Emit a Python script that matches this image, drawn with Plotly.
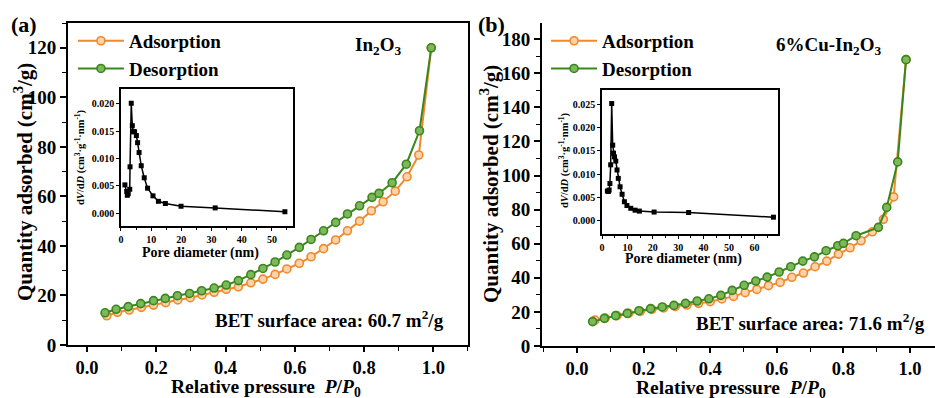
import plotly.graph_objects as go

# ---------------- data ----------------
# Panel (a) In2O3
a_ads_p = [0.057, 0.088, 0.122, 0.157, 0.192, 0.227, 0.262, 0.298, 0.332, 0.367, 0.402, 0.437,
           0.473, 0.508, 0.543, 0.577, 0.613, 0.647, 0.683, 0.718, 0.752, 0.787, 0.821, 0.855,
           0.890, 0.924, 0.958, 0.994]
a_ads_q = [11.8, 13.2, 14.1, 15.2, 16.1, 17.1, 18.2, 19.1, 20.2, 21.3, 22.5, 23.5,
           25.1, 26.6, 28.5, 30.7, 33.0, 35.6, 38.9, 42.4, 46.1, 50.0, 54.2, 57.8,
           62.1, 67.9, 76.7, 120.0]
a_des_p = [0.052, 0.084, 0.119, 0.155, 0.192, 0.226, 0.261, 0.296, 0.331, 0.367, 0.402, 0.437,
           0.473, 0.508, 0.543, 0.577, 0.613, 0.647, 0.683, 0.718, 0.752, 0.787, 0.823, 0.843,
           0.881, 0.922, 0.960, 0.994]
a_des_q = [13.0, 14.4, 15.5, 16.7, 17.9, 18.8, 19.9, 20.8, 21.9, 23.0, 24.2, 26.0,
           28.4, 30.9, 33.5, 36.3, 39.4, 42.6, 46.1, 49.5, 52.9, 56.2, 59.6, 61.2,
           65.5, 73.0, 86.5, 120.0]
a_pore_d = [1.3, 1.9, 2.1, 2.4, 2.9, 3.0, 3.4, 3.75, 4.1, 4.5, 5.1, 5.5, 6.0, 6.7, 7.7, 8.8,
            10.6, 12.4, 14.7, 19.9, 31.2, 54.3]
a_pore_v = [0.0052, 0.0040, 0.0033, 0.0036, 0.0044, 0.0085, 0.0201, 0.0160, 0.0149, 0.0149,
            0.0142, 0.0129, 0.0111, 0.0087, 0.0065, 0.0046, 0.0032, 0.0022, 0.0018, 0.0013,
            0.0010, 0.0003]

# Panel (b) 6%Cu-In2O3
b_ads_p = [0.054, 0.085, 0.120, 0.155, 0.190, 0.225, 0.260, 0.295, 0.330, 0.365, 0.400, 0.435,
           0.470, 0.505, 0.540, 0.575, 0.610, 0.645, 0.680, 0.715, 0.750, 0.785, 0.820, 0.853,
           0.887, 0.920, 0.951, 0.988]
b_ads_q = [15.2, 16.4, 17.8, 19.1, 20.3, 21.5, 22.3, 23.2, 24.0, 25.0, 26.0, 27.6,
           29.1, 31.3, 33.2, 35.4, 37.3, 40.3, 42.8, 46.5, 49.8, 53.9, 57.6, 61.7,
           67.0, 74.3, 87.5, 168.0]
b_des_p = [0.047, 0.082, 0.116, 0.151, 0.186, 0.221, 0.256, 0.291, 0.326, 0.361, 0.396, 0.432,
           0.466, 0.502, 0.537, 0.571, 0.607, 0.642, 0.678, 0.713, 0.748, 0.783, 0.800, 0.838,
           0.905, 0.930, 0.963, 0.988]
b_des_q = [14.3, 16.2, 17.8, 19.1, 20.7, 21.9, 22.9, 23.8, 25.0, 26.4, 27.7, 29.7,
           32.6, 35.6, 38.1, 40.4, 43.4, 46.5, 49.8, 52.3, 55.9, 58.8, 60.2, 64.7,
           69.6, 81.3, 108.0, 168.0]
b_pore_d = [2.1, 2.5, 2.8, 3.1, 3.4, 3.8, 4.2, 4.5, 4.9, 5.4, 5.9, 6.4, 7.1, 7.9, 8.8, 9.8,
            11.3, 13.0, 14.7, 20.5, 34.1, 67.5]
b_pore_v = [0.0064, 0.0063, 0.0066, 0.0080, 0.0120, 0.0251, 0.0162, 0.0145, 0.0137, 0.0128,
            0.0109, 0.0091, 0.0073, 0.0057, 0.0041, 0.0033, 0.0027, 0.0023, 0.0021, 0.0019,
            0.0018, 0.0008]

FONT = "Liberation Serif"
ORANGE = "#F0892B"
GREEN = "#3A861C"

fig = go.Figure()

def iso(x, y, name, color, fill, xa, ya, legend):
    fig.add_trace(go.Scatter(
        x=x, y=y, mode="lines+markers", name=name,
        line=dict(color=color, width=2),
        marker=dict(symbol="circle", size=8, color=fill, line=dict(color=color, width=1.6)),
        xaxis=xa, yaxis=ya, legend=legend, showlegend=True))

iso(a_ads_p, a_ads_q, "Adsorption", ORANGE, "#FAD3AA", "x", "y", "legend")
iso(a_des_p, a_des_q, "Desorption", GREEN, "#7DB85C", "x", "y", "legend")
iso(b_ads_p, b_ads_q, "Adsorption", ORANGE, "#FAD3AA", "x2", "y2", "legend2")
iso(b_des_p, b_des_q, "Desorption", GREEN, "#7DB85C", "x2", "y2", "legend2")

for d, v, xa, ya in [(a_pore_d, a_pore_v, "x3", "y3"), (b_pore_d, b_pore_v, "x4", "y4")]:
    fig.add_trace(go.Scatter(
        x=d, y=v, mode="lines+markers", showlegend=False,
        line=dict(color="black", width=1.5),
        marker=dict(symbol="square", size=5, color="black"),
        xaxis=xa, yaxis=ya))

tickfont = dict(family=FONT, size=19, color="black", weight="bold")
xtickfont = dict(family=FONT, size=18.5, color="black", weight="bold")
small_tf = dict(family=FONT, size=10, color="black", weight="bold")

def main_x(domain, rng, anchor, mirror):
    return dict(domain=domain, range=rng, anchor=anchor, showline=True, linecolor="black",
                linewidth=2, mirror=mirror, ticks="outside", ticklen=5, tickwidth=1.5,
                tickcolor="black", dtick=0.2, tick0=0, tickformat=".1f", automargin=False,
                minor=dict(ticks="outside", ticklen=4, dtick=0.1, tickcolor="black", tickwidth=1.2),
                showgrid=False, zeroline=False, tickfont=xtickfont)

def main_y(domain, rng, anchor, mirror):
    return dict(domain=domain, range=rng, anchor=anchor, showline=True, linecolor="black",
                linewidth=2, mirror=mirror, ticks="outside", ticklen=6, tickwidth=1.5,
                tickcolor="black", dtick=20, tick0=0, automargin=False,
                minor=dict(ticks="outside", ticklen=4, dtick=10, tickcolor="black", tickwidth=1.2),
                showgrid=False, zeroline=False, tickfont=tickfont)

def inset_x(domain, rng, anchor):
    return dict(domain=domain, range=rng, anchor=anchor, showline=True, linecolor="black",
                linewidth=1.5, mirror=True, ticks="outside", ticklen=3, tickwidth=1,
                tickcolor="black", dtick=10, tick0=0, automargin=False,
                minor=dict(ticks="outside", ticklen=2, dtick=5, tickcolor="black"),
                showgrid=False, zeroline=False, tickfont=small_tf)

def inset_y(domain, rng, anchor):
    return dict(domain=domain, range=rng, anchor=anchor, showline=True, linecolor="black",
                linewidth=1.5, mirror=True, ticks="outside", ticklen=3, tickwidth=1,
                tickcolor="black", dtick=0.005, tick0=0, tickformat=".3f", automargin=False,
                showgrid=False, zeroline=False, tickfont=small_tf)

legfont = dict(family=FONT, size=19, color="black", weight="bold")
fig.update_layout(
    width=935, height=398,
    margin=dict(l=0, r=0, t=0, b=0, autoexpand=False),
    paper_bgcolor="white", plot_bgcolor="rgba(0,0,0,0)",
    xaxis=main_x([0.0727, 0.5005], [-0.055, 1.1], "y", True),
    yaxis=main_y([0.1332, 0.9422], [0, 130], "x", True),
    xaxis2=main_x([0.5797, 1.0], [-0.105, 1.075], "y2", False),
    yaxis2=main_y([0.1307, 0.9422], [0, 189.5], "x2", False),
    xaxis3=inset_x([0.1294, 0.3134], [0, 57], "y3"),
    yaxis3=inset_y([0.4322, 0.7764], [-0.0023, 0.0227], "x3"),
    xaxis4=inset_x([0.6439, 0.8321], [0, 69.3], "y4"),
    yaxis4=inset_y([0.412, 0.7739], [-0.0028, 0.028], "x4"),
    legend=dict(x=0.078, y=0.945, xanchor="left", yanchor="top", bgcolor="rgba(0,0,0,0)",
                font=legfont, itemwidth=46, tracegroupgap=0),
    legend2=dict(x=0.584, y=0.945, xanchor="left", yanchor="top", bgcolor="rgba(0,0,0,0)",
                 font=legfont, itemwidth=46, tracegroupgap=0),
)

# white background for insets
for xd, yd in [([0.1294, 0.3134], [0.4322, 0.7764]), ([0.6439, 0.8321], [0.412, 0.7739])]:
    fig.add_shape(type="rect", xref="paper", yref="paper", x0=xd[0], x1=xd[1], y0=yd[0], y1=yd[1],
                  fillcolor="white", line=dict(width=0), layer="below")

def ann(text, x, y, size, xanchor="center", angle=0):
    fig.add_annotation(text=text, x=x / 935, y=1 - y / 398, xref="paper", yref="paper",
                       showarrow=False, xanchor=xanchor, yanchor="middle", textangle=angle,
                       font=dict(family=FONT, size=size, color="black", weight="bold"))

ann("(a)", 9, 25, 22, "left")
ann("(b)", 476, 25, 22, "left")
ann("In<sub>2</sub>O<sub>3</sub>", 378, 46, 19)
ann("6%Cu-In<sub>2</sub>O<sub>3</sub>", 829, 46, 19)
ann("BET surface area: 60.7 m<sup>2</sup>/g", 329, 319, 19)
ann("BET surface area: 71.6 m<sup>2</sup>/g", 810, 322, 19)

# main axis titles
xtitle = "Relative pressure  <i>P</i>/<i>P</i><sub>0</sub>"
ytitle = "Quantity adsorbed (cm<sup>3</sup>/g)"
ann(xtitle, 266, 388, 19.5)
ann(xtitle, 731, 389, 19.5)
ann(ytitle, 23, 182, 21, angle=-90)
ann(ytitle, 489, 184, 21, angle=-90)

# inset axis titles
ann("Pore diameter (nm)", 200, 253, 14)
ann("Pore diameter (nm)", 683, 259, 14)
ititle = "d<i>V</i>/d<i>D</i> (cm<sup>3</sup>·g<sup>-1</sup>·nm<sup>-1</sup>)"
ann(ititle, 80, 157, 10.5, angle=-90)
ann(ititle, 564, 160, 10.5, angle=-90)

fig.write_html("out.html", config={"displayModeBar": False},
               post_script="document.body.style.margin='0';document.body.style.overflow='hidden';")
